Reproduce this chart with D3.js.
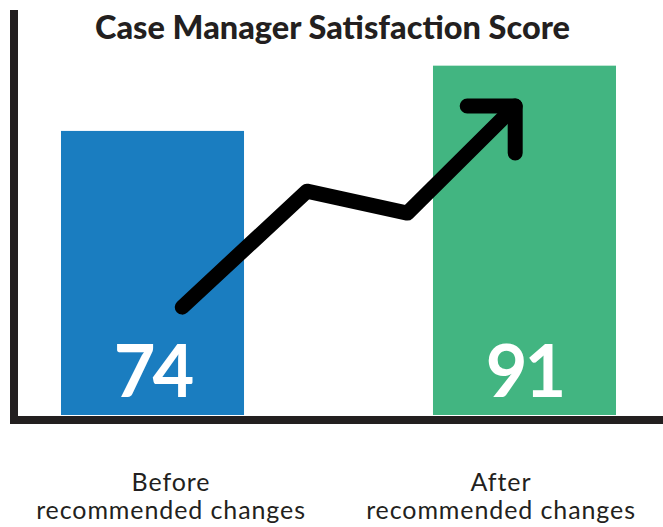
<!DOCTYPE html>
<html lang="en">
<head>
<meta charset="utf-8">
<title>Case Manager Satisfaction Score</title>
<script src="https://cdn.jsdelivr.net/npm/d3@7"></script>
<style>
  body { margin: 0; background: #fff; }
  #chart text { font-family: Lato, "Open Sans", sans-serif; fill: #231f20; }
</style>
</head>
<body>
<div id="chart"></div>
<script>
// data
var categories = ["Before", "After"];
var scores = [74, 91];
var barColors = ["#1a7dc0", "#42b581"];
var labelLine1 = ["Before", "After"];
var labelLine2 = ["recommended changes", "recommended changes"];
// trend arrow, x in category-index units (0 = first bar centre), y in score units
var arrowPos = [0.08, 0.415, 0.685, 0.975];
var arrowVal = [28.1, 58.3, 52.6, 80.5];

var width = 663, height = 527;

var svg = d3.select("#chart").append("svg")
    .attr("width", width)
    .attr("height", height);

var x = d3.scaleBand()
    .domain(categories)
    .range([23.8, 653.2])
    .paddingInner(0.508)
    .paddingOuter(0.1);

var y = d3.scaleLinear()
    .domain([0, 105.5])
    .range([415, 10]);

var xc = d3.scaleLinear()
    .domain([0, 1])
    .range([x(categories[0]) + x.bandwidth() / 2, x(categories[1]) + x.bandwidth() / 2]);

// label positions under the axis
var xl = d3.scalePoint().domain(categories).range([171, 501]);

// title
svg.append("text")
    .attr("x", 332.5)
    .attr("y", 39)
    .attr("text-anchor", "middle")
    .style("font-size", "32.5px")
    .style("font-weight", "900")
    .text("Case Manager Satisfaction Score");

// bars
svg.selectAll("rect.bar")
    .data(scores)
    .enter()
    .append("rect")
    .attr("class", "bar")
    .attr("x", function(d, i) { return x(categories[i]); })
    .attr("y", function(d) { return y(d); })
    .attr("width", x.bandwidth())
    .attr("height", function(d) { return y(0) - y(d); })
    .attr("fill", function(d, i) { return barColors[i]; });

// value labels
svg.selectAll("text.val")
    .data(scores)
    .enter()
    .append("text")
    .attr("class", "val")
    .attr("x", function(d, i) { return x(categories[i]) + x.bandwidth() / 2; })
    .attr("y", 397)
    .attr("text-anchor", "middle")
    .style("font-size", "72px")
    .style("font-weight", "bold")
    .style("letter-spacing", "-3px")
    .style("fill", "#fff")
    .text(function(d) { return d; });

// axes
svg.append("line")
    .attr("x1", 14).attr("x2", 14)
    .attr("y1", 10).attr("y2", 424)
    .attr("stroke", "#231f20").attr("stroke-width", 8);
svg.append("line")
    .attr("x1", 10).attr("x2", width)
    .attr("y1", y(0) + 5).attr("y2", y(0) + 5)
    .attr("stroke", "#231f20").attr("stroke-width", 8);

// trend arrow
var pts = arrowPos.map(function(p, i) { return [xc(p), y(arrowVal[i])]; });
svg.append("path")
    .attr("d", d3.line()(pts))
    .attr("fill", "none")
    .attr("stroke", "#000")
    .attr("stroke-width", 15)
    .attr("stroke-linecap", "round")
    .attr("stroke-linejoin", "round");

var tip = pts[pts.length - 1];
svg.append("path")
    .attr("d", d3.line()([[tip[0] - 48, tip[1]], tip, [tip[0], tip[1] + 47]]))
    .attr("fill", "none")
    .attr("stroke", "#000")
    .attr("stroke-width", 15)
    .attr("stroke-linecap", "round")
    .attr("stroke-linejoin", "round");

// category labels
var lab = svg.selectAll("text.cat")
    .data(categories)
    .enter()
    .append("text")
    .attr("class", "cat")
    .attr("text-anchor", "middle")
    .style("font-size", "25px")
    .style("letter-spacing", "0.9px");
lab.append("tspan")
    .attr("x", function(d) { return xl(d); })
    .attr("y", 491)
    .text(function(d, i) { return labelLine1[i]; });
lab.append("tspan")
    .attr("x", function(d) { return xl(d); })
    .attr("y", 519)
    .text(function(d, i) { return labelLine2[i]; });
</script>
</body>
</html>
